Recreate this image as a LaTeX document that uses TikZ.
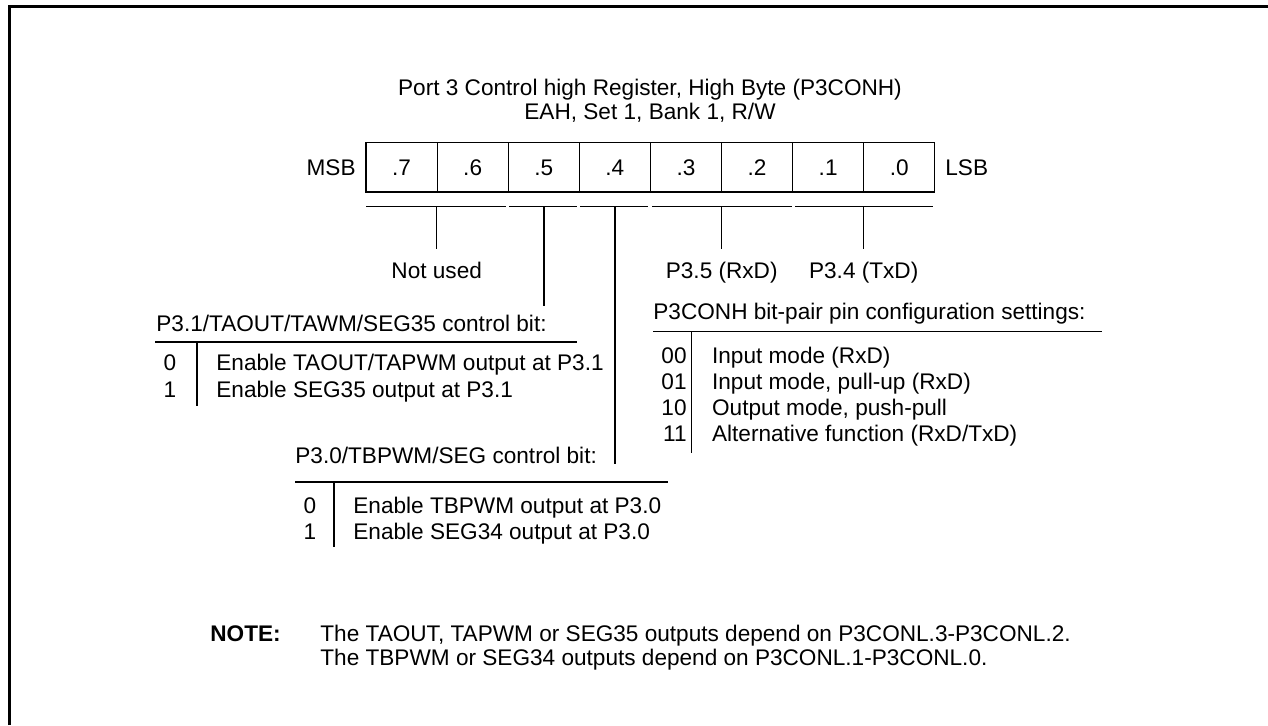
\documentclass[tikz,border=0pt]{standalone}
\usepackage{fontspec}
\setmainfont{Liberation Sans}
\begin{document}
\begin{tikzpicture}[x=0.5pt,y=-0.5pt,
  txt/.style={inner sep=0pt, font=\fontsize{11.3pt}{13pt}\selectfont},
  ln/.style={line width=0.6pt},
  frame/.style={line width=1.5pt},
  cell/.style={draw, line width=0.6pt, minimum width=35.55pt, minimum height=24.65pt, inner sep=0pt, text height=8.1pt, text depth=0pt, font=\fontsize{11.3pt}{13pt}\selectfont}]
\useasboundingbox (0,0) rectangle (1268,725);
% outer frame (cropped)
\coordinate (fb) at (9,725);
\coordinate (ftl) at (9,6);
\coordinate (ftr) at (1268,6);
\draw[frame] (fb) -- (ftl) -- (ftr);
% title
\node[txt, anchor=base] (t1) at (650,95) {Port 3 Control high Register, High Byte (P3CONH)};
\node[txt, anchor=base] (t2) at (650,119) {EAH, Set 1, Bank 1, R/W};
% register cells
\foreach \i/\lab in {0/.7,1/.6,2/.5,3/.4,4/.3,5/.2,6/.1,7/.0}{
  \node[cell] (c\i) at ({366+71.1*(\i+0.5)},167.4) {\lab};
}
\node[txt, anchor=base east] (msb) at (356,175.5) {MSB};
\node[txt, anchor=base west] (lsb) at (945,175.5) {LSB};
% underline segments
\coordinate (u1a) at (366,206.7); \coordinate (u1b) at (506,206.7);
\coordinate (u2a) at (509,206.7); \coordinate (u2b) at (577,206.7);
\coordinate (u3a) at (580,206.7); \coordinate (u3b) at (648,206.7);
\coordinate (u4a) at (652,206.7); \coordinate (u4b) at (791.5,206.7);
\coordinate (u5a) at (795,206.7); \coordinate (u5b) at (933,206.7);
\draw[ln] (u1a) -- (u1b);
\draw[ln] (u2a) -- (u2b);
\draw[ln] (u3a) -- (u3b);
\draw[ln] (u4a) -- (u4b);
\draw[ln] (u5a) -- (u5b);
% drop lines
\coordinate (d1) at (436.7,206.7); \coordinate (e1) at (436.7,249);
\coordinate (d2) at (544,206.7);   \coordinate (e2) at (544,306);
\coordinate (d3) at (615,206.7);   \coordinate (e3) at (615,464);
\coordinate (d4) at (721.7,206.7); \coordinate (e4) at (721.7,249);
\coordinate (d5) at (863.7,206.7); \coordinate (e5) at (863.7,249);
\draw[ln] (d1) -- (e1);
\draw[ln] (d2) -- (e2);
\draw[ln] (d3) -- (e3);
\draw[ln] (d4) -- (e4);
\draw[ln] (d5) -- (e5);
\node[txt, anchor=base] (notused) at (436.7,278) {Not used};
\node[txt, anchor=base] (p35) at (721.7,278) {P3.5 (RxD)};
\node[txt, anchor=base] (p34) at (863.7,278) {P3.4 (TxD)};
% P3.1 block
\node[txt, anchor=base west] (h31) at (156,331) {P3.1/TAOUT/TAWM/SEG35 control bit:};
\coordinate (r31a) at (155,342); \coordinate (r31b) at (577,342);
\draw[ln] (r31a) -- (r31b);
\coordinate (v31a) at (197,342); \coordinate (v31b) at (197,406);
\draw[ln] (v31a) -- (v31b);
\node[txt, anchor=base] (k310) at (170,370) {0};
\node[txt, anchor=base] (k311) at (170,397) {1};
\node[txt, anchor=base west] (x310) at (216,370) {Enable TAOUT/TAPWM output at P3.1};
\node[txt, anchor=base west] (x311) at (216,397) {Enable SEG35 output at P3.1};
% P3CONH block
\node[txt, anchor=base west] (hcf) at (653,319) {P3CONH bit-pair pin configuration settings:};
\coordinate (rcfa) at (653,331.7); \coordinate (rcfb) at (1102,331.7);
\draw[ln] (rcfa) -- (rcfb);
\coordinate (vcfa) at (691.7,331.7); \coordinate (vcfb) at (691.7,453);
\draw[ln] (vcfa) -- (vcfb);
\foreach \k/\code/\desc in {0/00/{Input mode (RxD)},1/01/{Input mode, pull-up (RxD)},2/10/{Output mode, push-pull},3/11/{Alternative function (RxD/TxD)}}{
  \node[txt, anchor=base east] (kc\k) at (687,{363+26.2*\k}) {\code};
  \node[txt, anchor=base west] (xc\k) at (711.7,{363+26.2*\k}) {\desc};
}
% P3.0 block
\node[txt, anchor=base west] (h30) at (295,463) {P3.0/TBPWM/SEG control bit:};
\coordinate (r30a) at (295,482); \coordinate (r30b) at (668,482);
\draw[ln] (r30a) -- (r30b);
\coordinate (v30a) at (334,482); \coordinate (v30b) at (334,547);
\draw[ln] (v30a) -- (v30b);
\node[txt, anchor=base] (k300) at (310,513) {0};
\node[txt, anchor=base] (k301) at (310,539) {1};
\node[txt, anchor=base west] (x300) at (353,513) {Enable TBPWM output at P3.0};
\node[txt, anchor=base west] (x301) at (353,539) {Enable SEG34 output at P3.0};
% note
\node[txt, anchor=base west, font=\fontsize{11.3pt}{13pt}\selectfont\bfseries] (note) at (210,641) {NOTE:};
\node[txt, anchor=base west] (n1) at (320,641) {The TAOUT, TAPWM or SEG35 outputs depend on P3CONL.3-P3CONL.2.};
\node[txt, anchor=base west] (n2) at (320,665) {The TBPWM or SEG34 outputs depend on P3CONL.1-P3CONL.0.};
\end{tikzpicture}
\end{document}
